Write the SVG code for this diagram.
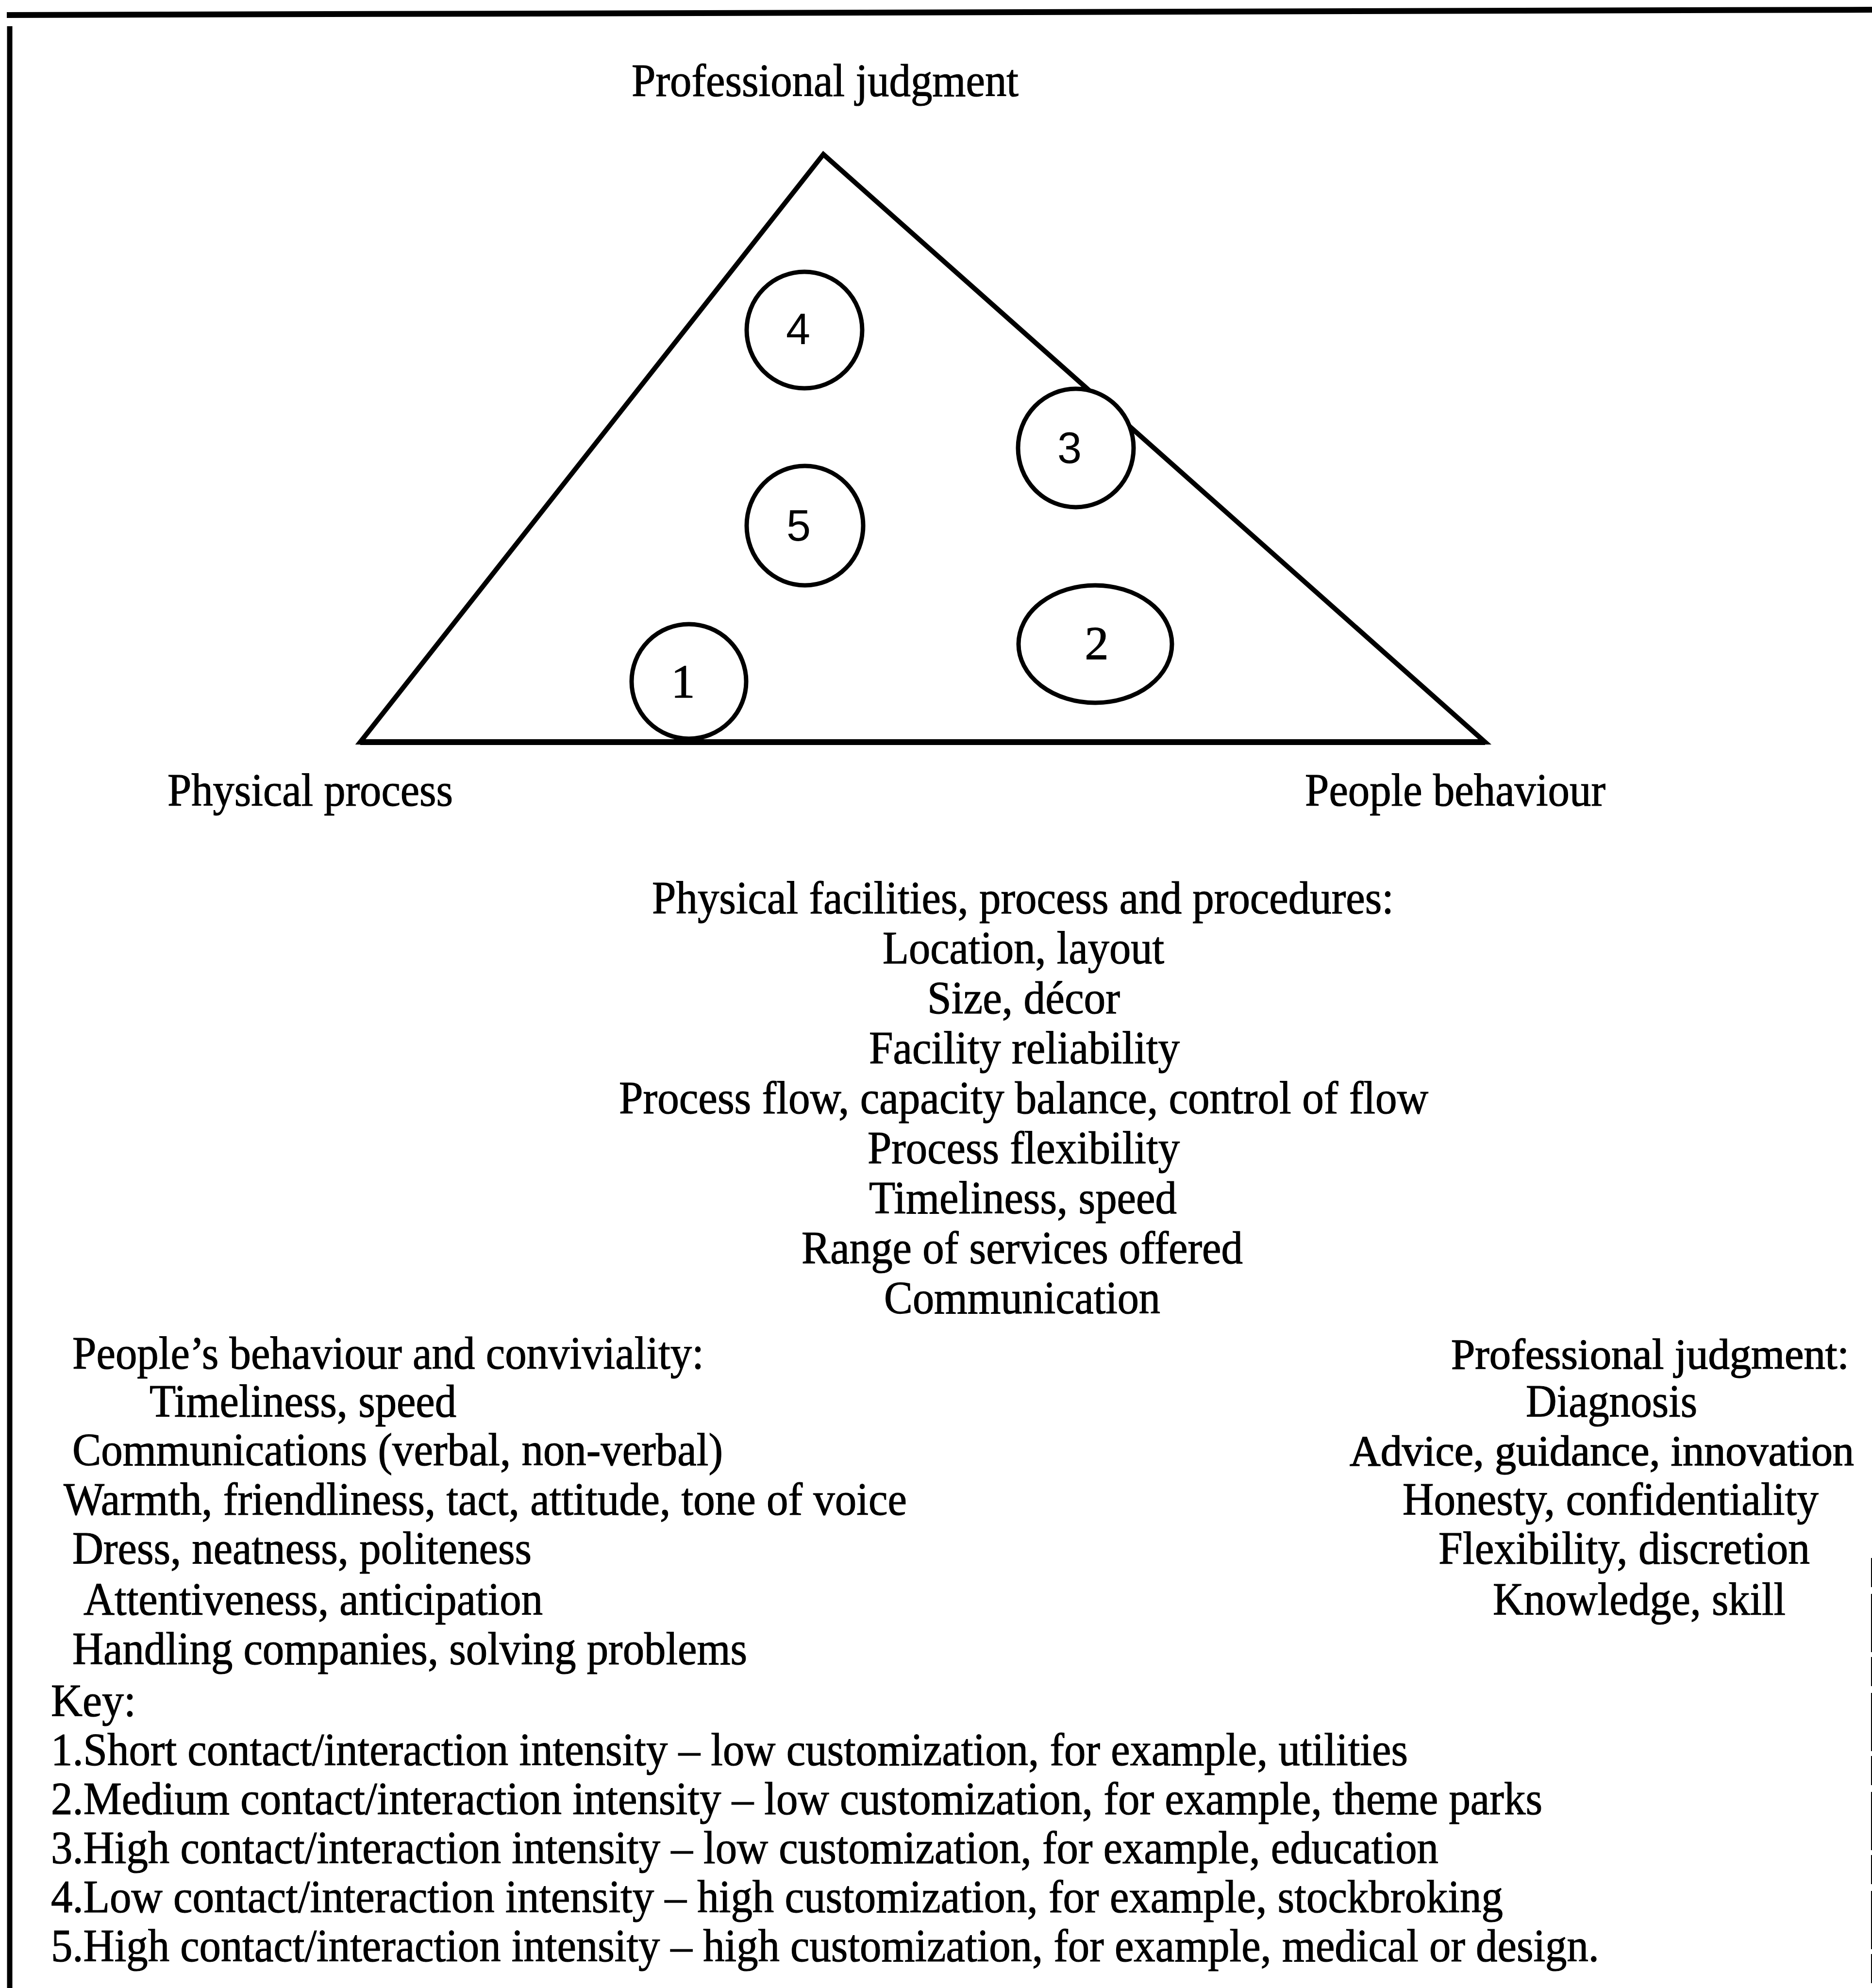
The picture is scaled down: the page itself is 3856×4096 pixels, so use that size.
<svg xmlns="http://www.w3.org/2000/svg" width="3856" height="4096" viewBox="0 0 3856 4096">
  <style>
    .t { font-family: "Liberation Serif", "Times New Roman", serif; font-size: 96px; fill: #000; stroke: #000; stroke-width: 1.2px; }
    .r { text-anchor: end; }
    .s { font-size: 88px; stroke-width: 1.5px; }
    .ns { font-family: "Liberation Sans", Arial, sans-serif; font-size: 90px; fill: #000; text-anchor: middle; }
    .nr { font-family: "Liberation Serif", "Times New Roman", serif; font-size: 98px; fill: #000; stroke: #000; stroke-width: 1.5px; text-anchor: middle; }
    .ring { fill: #fff; stroke: #000; stroke-width: 9; }
    .edge { fill: none; stroke: #000; stroke-linecap: butt; }
  </style>

  <rect x="0" y="0" width="3856" height="4096" fill="#fff"/>

  <!-- page frame: heavy top rule, left rule, faint right edge -->
  <g id="frame">
    <path class="edge" d="M14 31 L3856 20" stroke-width="12"/>
    <path class="edge" d="M20 54 L20 4096" stroke-width="11"/>
    <path class="edge" d="M3855 3210 L3855 4096" stroke="#666" stroke-width="2" stroke-dasharray="60 14 120 10"/>
  </g>

  <!-- triangle of the three service dimensions -->
  <g id="connectors">
    <polygon class="edge" points="1696,318 3059,1529 742,1529" stroke-width="10" stroke-linejoin="miter"/>
    <path class="edge" d="M742 1529 L3059 1529" stroke-width="12"/>
  </g>

  <g id="node-4">
    <ellipse class="ring" cx="1657" cy="680" rx="119" ry="120"/>
    <text class="ns" x="1644" y="709">4</text>
  </g>
  <g id="node-3">
    <ellipse class="ring" cx="2216" cy="923" rx="119" ry="122"/>
    <text class="ns" x="2203" y="954">3</text>
  </g>
  <g id="node-5">
    <ellipse class="ring" cx="1658" cy="1083" rx="120" ry="123"/>
    <text class="ns" x="1645" y="1114">5</text>
  </g>
  <g id="node-2">
    <ellipse class="ring" cx="2256" cy="1327" rx="158" ry="121"/>
    <text class="nr" x="2259" y="1358">2</text>
  </g>
  <g id="node-1">
    <ellipse class="ring" cx="1419" cy="1404" rx="118" ry="118"/>
    <text class="nr" x="1407" y="1437">1</text>
  </g>

  <!-- corner labels -->
  <g id="corner-labels">
    <text class="t" x="1301" y="198" textLength="797" lengthAdjust="spacingAndGlyphs">Professional judgment</text>
    <text class="t" x="345" y="1660" textLength="588" lengthAdjust="spacingAndGlyphs">Physical process</text>
    <text class="t" x="2688" y="1660" textLength="619" lengthAdjust="spacingAndGlyphs">People behaviour</text>
  </g>

  <!-- physical facilities list -->
  <g id="list-physical">
    <text class="t" x="1343" y="1882" textLength="1528" lengthAdjust="spacingAndGlyphs">Physical facilities, process and procedures:</text>
    <text class="t" x="1818" y="1985" textLength="580" lengthAdjust="spacingAndGlyphs">Location, layout</text>
    <text class="t" x="1910" y="2088" textLength="397" lengthAdjust="spacingAndGlyphs">Size, décor</text>
    <text class="t" x="1790" y="2191" textLength="640" lengthAdjust="spacingAndGlyphs">Facility reliability</text>
    <text class="t" x="1275" y="2294" textLength="1667" lengthAdjust="spacingAndGlyphs">Process flow, capacity balance, control of flow</text>
    <text class="t" x="1787" y="2397" textLength="643" lengthAdjust="spacingAndGlyphs">Process flexibility</text>
    <text class="t" x="1790" y="2500" textLength="634" lengthAdjust="spacingAndGlyphs">Timeliness, speed</text>
    <text class="t" x="1651" y="2603" textLength="909" lengthAdjust="spacingAndGlyphs">Range of services offered</text>
    <text class="t" x="1821" y="2706" textLength="569" lengthAdjust="spacingAndGlyphs">Communication</text>
  </g>

  <!-- people behaviour list -->
  <g id="list-people">
    <text class="t" x="149" y="2820" textLength="1301" lengthAdjust="spacingAndGlyphs">People’s behaviour and conviviality:</text>
    <text class="t" x="308" y="2919" textLength="632" lengthAdjust="spacingAndGlyphs">Timeliness, speed</text>
    <text class="t" x="149" y="3019" textLength="1340" lengthAdjust="spacingAndGlyphs">Communications (verbal, non-verbal)</text>
    <text class="t" x="131" y="3121" textLength="1737" lengthAdjust="spacingAndGlyphs">Warmth, friendliness, tact, attitude, tone of voice</text>
    <text class="t" x="149" y="3222" textLength="946" lengthAdjust="spacingAndGlyphs">Dress, neatness, politeness</text>
    <text class="t" x="172" y="3327" textLength="946" lengthAdjust="spacingAndGlyphs">Attentiveness, anticipation</text>
    <text class="t" x="149" y="3429" textLength="1390" lengthAdjust="spacingAndGlyphs">Handling companies, solving problems</text>
  </g>

  <!-- professional judgment list (right-aligned to its printed extents) -->
  <g id="list-professional">
    <text class="t r s" x="3809" y="2820" textLength="820" lengthAdjust="spacingAndGlyphs">Professional judgment:</text>
    <text class="t r" x="3496" y="2919" textLength="353" lengthAdjust="spacingAndGlyphs">Diagnosis</text>
    <text class="t r s" x="3819" y="3019" textLength="1039" lengthAdjust="spacingAndGlyphs">Advice, guidance, innovation</text>
    <text class="t r" x="3746" y="3121" textLength="857" lengthAdjust="spacingAndGlyphs">Honesty, confidentiality</text>
    <text class="t r" x="3728" y="3222" textLength="765" lengthAdjust="spacingAndGlyphs">Flexibility, discretion</text>
    <text class="t r" x="3678" y="3327" textLength="603" lengthAdjust="spacingAndGlyphs">Knowledge, skill</text>
  </g>

  <!-- key -->
  <g id="key">
    <text class="t" x="105" y="3536" textLength="175" lengthAdjust="spacingAndGlyphs">Key:</text>
    <text class="t" x="105" y="3637" textLength="2795" lengthAdjust="spacingAndGlyphs">1.Short contact/interaction intensity – low customization, for example, utilities</text>
    <text class="t" x="105" y="3738" textLength="3072" lengthAdjust="spacingAndGlyphs">2.Medium contact/interaction intensity – low customization, for example, theme parks</text>
    <text class="t" x="105" y="3839" textLength="2858" lengthAdjust="spacingAndGlyphs">3.High contact/interaction intensity – low customization, for example, education</text>
    <text class="t" x="105" y="3940" textLength="2991" lengthAdjust="spacingAndGlyphs">4.Low contact/interaction intensity – high customization, for example, stockbroking</text>
    <text class="t" x="105" y="4041" textLength="3189" lengthAdjust="spacingAndGlyphs">5.High contact/interaction intensity – high customization, for example, medical or design.</text>
  </g>
</svg>
